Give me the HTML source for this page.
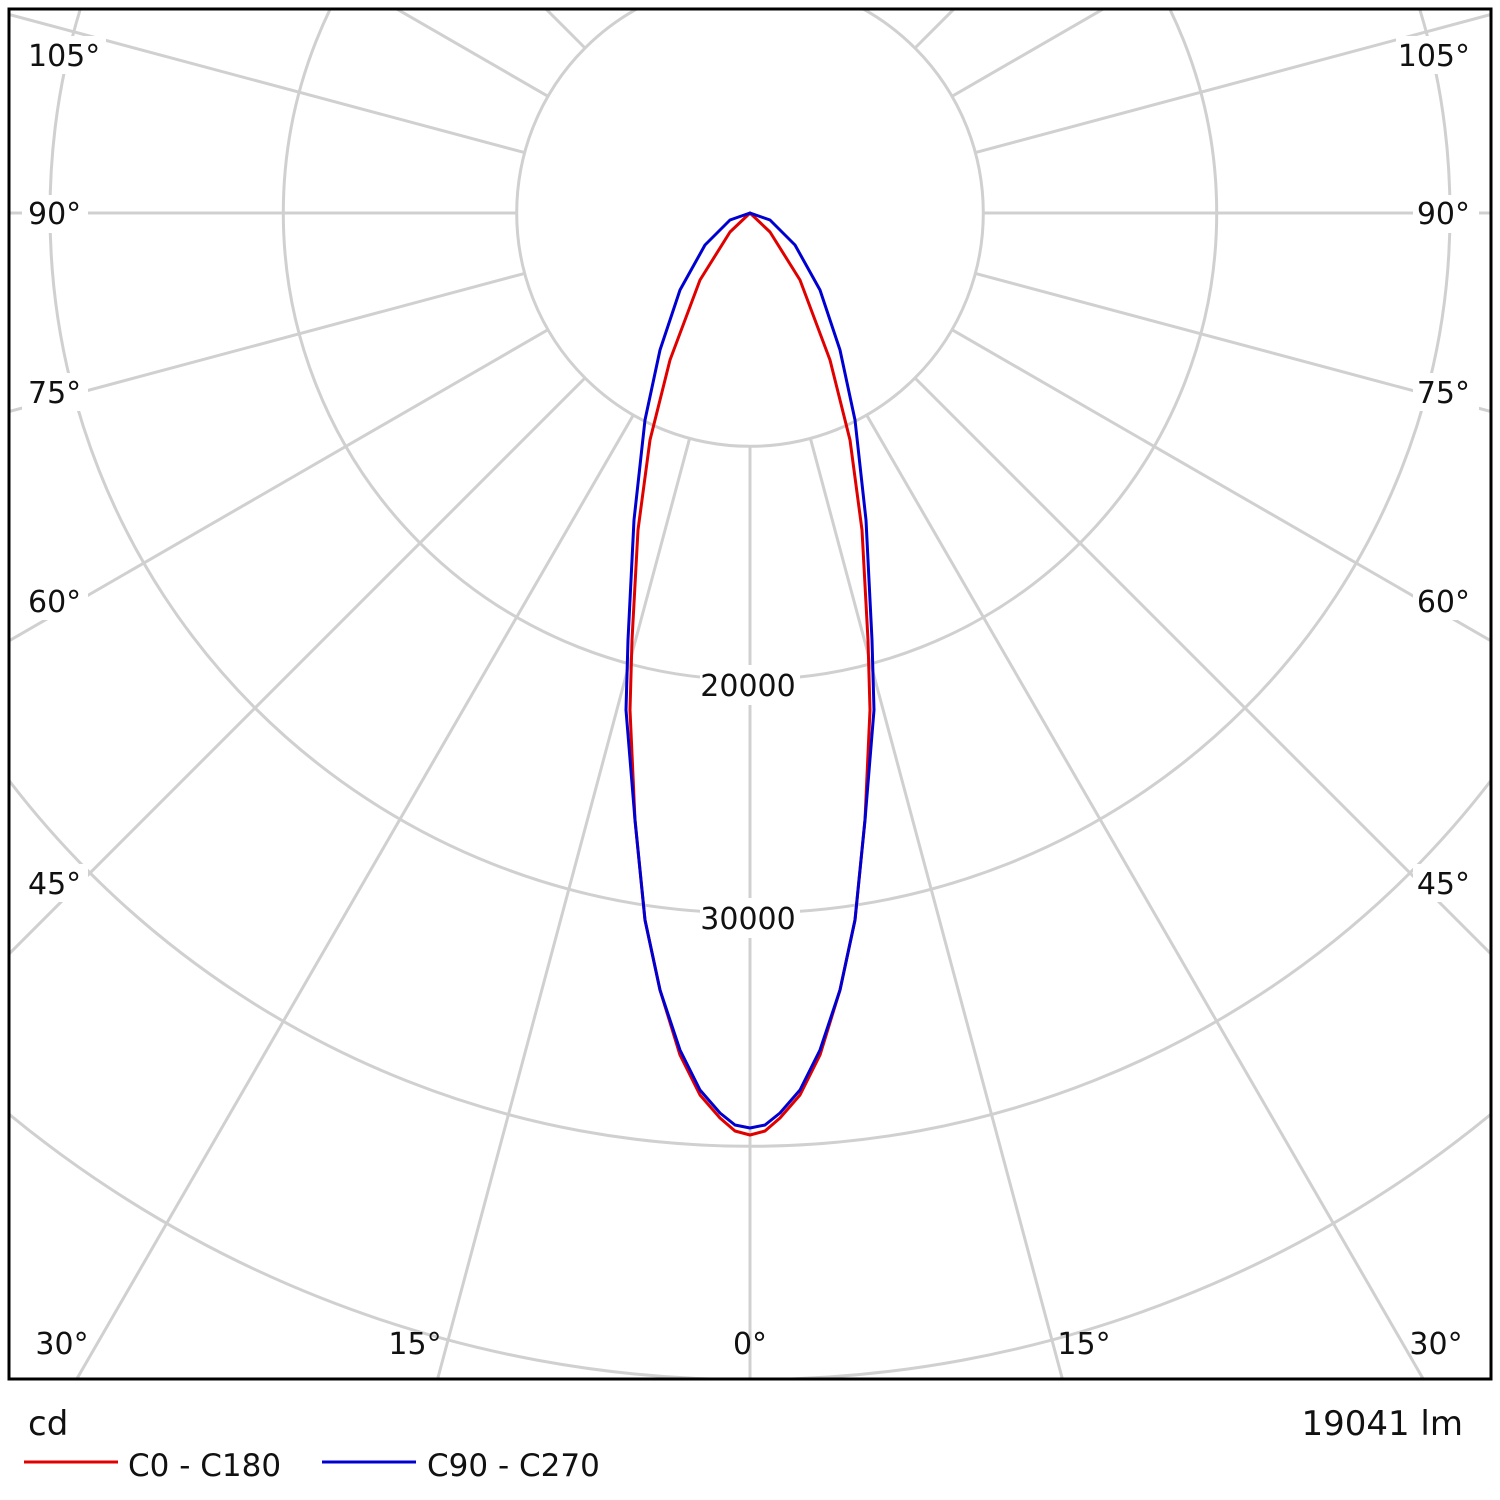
<!DOCTYPE html>
<html><head><style>html,body{margin:0;padding:0;background:#fff;width:1500px;height:1500px;overflow:hidden}svg{display:block}</style></head><body>
<svg width="1500" height="1500" xmlns="http://www.w3.org/2000/svg" font-family="DejaVu Sans, Liberation Sans, sans-serif">
<defs><clipPath id="c"><rect x="9" y="9" width="1482" height="1370"/></clipPath></defs>
<g clip-path="url(#c)" stroke="#d0d0d0" stroke-width="3" fill="none">
<circle cx="750" cy="213" r="233.3"/><circle cx="750" cy="213" r="466.7"/><circle cx="750" cy="213" r="700"/><circle cx="750" cy="213" r="933.3"/><circle cx="750" cy="213" r="1166.7"/><circle cx="750" cy="213" r="1400"/>
<g id="rl">
<line x1="750" y1="446.3" x2="750" y2="2713"/>
<line x1="810.4" y1="438.4" x2="1397" y2="2628"/>
<line x1="866.7" y1="415.1" x2="2000" y2="2378"/>
<line x1="915" y1="378" x2="2518" y2="1981"/>
<line x1="952" y1="329.7" x2="2915" y2="1463"/>
<line x1="975.4" y1="273.4" x2="3165" y2="860"/>
<line x1="983.3" y1="213" x2="3250" y2="213"/>
<line x1="975.4" y1="152.6" x2="3165" y2="-434"/>
<line x1="952" y1="96.3" x2="2915" y2="-1037"/>
<line x1="915" y1="48" x2="2518" y2="-1555"/>
</g>
<use href="#rl" transform="translate(1500,0) scale(-1,1)"/>
</g>
<g fill="none" stroke-width="3" stroke-linejoin="round">
<path stroke="#e00000" d="M750,1135 L765,1131 L780,1118 L800,1095 L820,1055 L840,990 L855,920 L865,820 L870,710 L868,640 L862,530 L850,440 L830,360 L800,280 L770,232 L750,213 L730,232 L700,280 L670,360 L650,440 L638,530 L632,640 L630,710 L635,820 L645,920 L660,990 L680,1055 L700,1095 L720,1118 L735,1131 Z"/>
<path stroke="#0000d0" d="M750,1128 L765,1125 L780,1113 L800,1090 L820,1050 L840,990 L855,920 L865,820 L874,710 L872,640 L866,520 L855,420 L840,350 L820,290 L795,245 L770,220 L750,213 L730,220 L705,245 L680,290 L660,350 L645,420 L634,520 L628,640 L626,710 L635,820 L645,920 L660,990 L680,1050 L700,1090 L720,1113 L735,1125 Z"/>
</g>
<rect x="9" y="9" width="1482" height="1370" fill="none" stroke="#000" stroke-width="3"/>
<g font-size="30" fill="#111">
<g fill="#fff"><rect x="22" y="36" width="84" height="38"/><rect x="1396" y="36" width="84" height="38"/><rect x="22" y="195" width="66" height="38"/><rect x="1413" y="195" width="66" height="38"/><rect x="22" y="373" width="66" height="38"/><rect x="1413" y="373" width="66" height="38"/><rect x="22" y="582" width="66" height="38"/><rect x="1413" y="582" width="66" height="38"/><rect x="22" y="864" width="66" height="38"/><rect x="1413" y="864" width="66" height="38"/><rect x="700" y="665" width="100" height="40"/><rect x="700" y="898" width="100" height="40"/></g>
<text x="28" y="66">105°</text><text x="1470" y="66" text-anchor="end">105°</text>
<text x="28" y="224">90°</text><text x="1470" y="224" text-anchor="end">90°</text>
<text x="28" y="403">75°</text><text x="1470" y="403" text-anchor="end">75°</text>
<text x="28" y="612">60°</text><text x="1470" y="612" text-anchor="end">60°</text>
<text x="28" y="894">45°</text><text x="1470" y="894" text-anchor="end">45°</text>
<text x="748" y="696" text-anchor="middle">20000</text>
<text x="748" y="929" text-anchor="middle">30000</text>
<text x="62" y="1354" text-anchor="middle">30°</text><text x="415" y="1354" text-anchor="middle">15°</text><text x="750" y="1354" text-anchor="middle">0°</text><text x="1084" y="1354" text-anchor="middle">15°</text><text x="1436" y="1354" text-anchor="middle">30°</text>
</g>
<g font-size="34" fill="#111"><text x="28" y="1435">cd</text><text x="1463" y="1435" text-anchor="end">19041 lm</text></g>
<line x1="24" y1="1462" x2="118" y2="1462" stroke="#e00000" stroke-width="3"/>
<line x1="322" y1="1462" x2="416" y2="1462" stroke="#0000d0" stroke-width="3"/>
<g font-size="31" fill="#111"><text x="128" y="1476">C0 - C180</text><text x="427" y="1476">C90 - C270</text></g>
</svg>
</body></html>
